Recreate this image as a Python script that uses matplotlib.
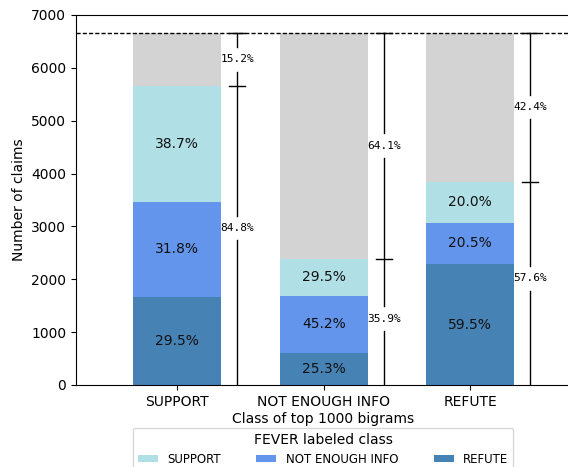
import matplotlib
matplotlib.use("Agg")
import matplotlib.pyplot as plt
import numpy as np

categories = ["SUPPORT", "NOT ENOUGH INFO", "REFUTE"]
legend_labels = ["SUPPORT", "NOT ENOUGH INFO", "REFUTE"]
total_claims = 6666
# counts of FEVER labeled class within each bigram class (stack order: REFUTE, NEI, SUPPORT)
refute_counts = [1668, 605, 2285]
nei_counts = [1798, 1082, 787]
support_counts = [2188, 706, 768]

colors = {"SUPPORT": "#B0E0E6", "NEI": "#6495ED", "REFUTE": "#4682B4", "rest": "#D3D3D3"}

W, H = 568, 467
fig = plt.figure(figsize=(W / 100, H / 100), dpi=100)
ax = fig.add_axes([76 / W, 1 - 385 / H, (570 - 76) / W, (385 - 15) / H])

x = np.arange(len(categories))
width = 0.6
ref = np.array(refute_counts, float)
nei = np.array(nei_counts, float)
sup = np.array(support_counts, float)
colored = ref + nei + sup
rest = total_claims - colored

b1 = ax.bar(x, ref, width, color=colors["REFUTE"], label=legend_labels[2])
b2 = ax.bar(x, nei, width, bottom=ref, color=colors["NEI"], label=legend_labels[1])
b3 = ax.bar(x, sup, width, bottom=ref + nei, color=colors["SUPPORT"], label=legend_labels[0])
ax.bar(x, rest, width, bottom=colored, color=colors["rest"])

for i in range(len(x)):
    for bottom, val in [(0, ref[i]), (ref[i], nei[i]), (ref[i] + nei[i], sup[i])]:
        ax.text(x[i], bottom + val / 2, f"{val / colored[i] * 100:.1f}%",
                ha="center", va="center", fontsize=10, color="#111111")

ax.axhline(total_claims, color="black", linestyle="--", linewidth=1, dashes=(3, 1.5))

off = 0.41
cap = 0.055
gap = 230
for i in range(len(x)):
    lx = x[i] + off
    m1 = colored[i] / 2 * 1.05
    m2 = (colored[i] + total_claims) / 2
    ax.plot([lx, lx], [0, m1 - gap], color="black", linewidth=1, zorder=3)
    ax.plot([lx, lx], [m1 + gap, m2 - gap], color="black", linewidth=1, zorder=3)
    ax.plot([lx, lx], [m2 + gap, total_claims], color="black", linewidth=1, zorder=3)
    ax.plot([lx - cap, lx + cap], [colored[i], colored[i]], color="black", linewidth=1, zorder=3)
    ax.plot([lx - cap, lx + cap], [total_claims, total_claims], color="black", linewidth=1, zorder=3)
    ax.text(lx, m1, f"{colored[i] / total_claims * 100:.1f}%",
            ha="center", va="center", fontsize=8, family="DejaVu Sans Mono", zorder=4)
    ax.text(lx, m2, f"{rest[i] / total_claims * 100:.1f}%",
            ha="center", va="center", fontsize=8, family="DejaVu Sans Mono", zorder=4)

ax.set_xlim(-0.69, 2.68)
ax.set_ylim(0, 7000)
ax.set_xticks(x)
ax.set_xticklabels(categories, fontsize=10)
ax.tick_params(axis="y", labelsize=10)
ax.set_ylabel("Number of claims", fontsize=10)
ax.set_xlabel("Class of top 1000 bigrams", fontsize=10, labelpad=2)

ax.legend(handles=[b3, b2, b1], labels=legend_labels, title="FEVER labeled class",
          ncol=3, loc="upper center", bbox_to_anchor=(0.5, -0.1), fontsize=8.5,
          title_fontsize=10, frameon=True, columnspacing=3.0,
          handlelength=1.7, handleheight=0.5)

fig.savefig("out.png", dpi=100)
